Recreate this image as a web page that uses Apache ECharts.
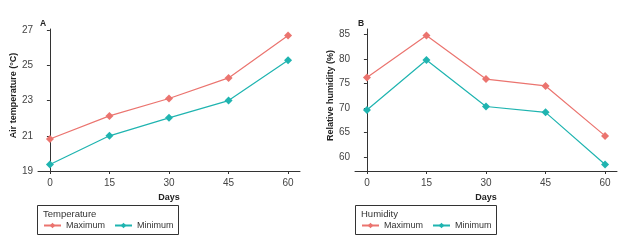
<!DOCTYPE html>
<html>
<head>
<meta charset="utf-8">
<script src="https://cdn.jsdelivr.net/npm/echarts@6/dist/echarts.min.js"></script>
<style>
  html, body { margin: 0; padding: 0; background: #fff; }
  #chart { width: 624px; height: 243px; }
</style>
</head>
<body>
<div id="chart"></div>
<script>
const days = [0, 15, 30, 45, 60];
const tempMax = [20.82, 22.13, 23.12, 24.29, 26.7];
const tempMin = [19.37, 21.0, 22.02, 23.0, 25.3];
const humMax = [76.2, 84.8, 75.9, 74.5, 64.3];
const humMin = [69.6, 79.8, 70.3, 69.1, 58.45];
const tempTicks = [19, 21, 23, 25, 27];
const humTicks = [60, 65, 70, 75, 80, 85];

const RED = '#EB746F';
const TEAL = '#1FB4B0';
const FONT = "'Liberation Sans Narrow', 'Liberation Sans', sans-serif";

const chart = echarts.init(document.getElementById('chart'));

function pairs(ys) {
  return days.map((d, i) => [d, ys[i]]);
}

function xAxisFor(gridIndex) {
  return {
    type: 'value',
    gridIndex: gridIndex,
    min: -3,
    max: 63,
    name: 'Days',
    nameLocation: 'middle',
    nameGap: 20,
    nameTextStyle: { fontFamily: FONT, fontWeight: 'bold', fontSize: 9, color: '#222' },
    axisLine: { show: true, lineStyle: { color: '#333', width: 1 } },
    axisTick: { show: true, length: 3, customValues: days, lineStyle: { color: '#333' } },
    axisLabel: { customValues: days, fontFamily: FONT, fontSize: 10, color: '#444', margin: 7 },
    splitLine: { show: false }
  };
}

function yAxisFor(gridIndex, name, min, max, ticks) {
  return {
    type: 'value',
    gridIndex: gridIndex,
    min: min,
    max: max,
    name: name,
    nameLocation: 'middle',
    nameGap: 20,
    // left padding nudges the rotated title a little upwards, as in the source
    nameTextStyle: { fontFamily: FONT, fontWeight: 'bold', fontSize: 9, color: '#222', padding: [0, 0, 0, 9] },
    axisLine: { show: true, lineStyle: { color: '#333', width: 1 } },
    axisTick: { show: true, length: 3, customValues: ticks, lineStyle: { color: '#333' } },
    axisLabel: { customValues: ticks, fontFamily: FONT, fontSize: 10, color: '#444', margin: 5 },
    splitLine: { show: false }
  };
}

function lineSeries(name, color, xi, data) {
  return {
    name: name,
    type: 'line',
    xAxisIndex: xi,
    yAxisIndex: xi,
    data: pairs(data),
    symbol: 'diamond',
    symbolSize: 8,
    showSymbol: true,
    lineStyle: { color: color, width: 1.2 },
    itemStyle: { color: color },
    animation: false
  };
}

function legendFor(left) {
  return {
    left: left,
    top: 221,
    padding: 0,
    orient: 'horizontal',
    itemWidth: 17,
    itemHeight: 7,
    itemGap: 9,
    data: ['Maximum', 'Minimum'],
    textStyle: { fontFamily: FONT, fontSize: 9, color: '#333' }
  };
}

const option = {
  backgroundColor: '#fff',
  grid: [
    { left: 38, top: 29, width: 262, height: 142 },
    { left: 355, top: 29, width: 262, height: 142 }
  ],
  xAxis: [xAxisFor(0), xAxisFor(1)],
  yAxis: [
    yAxisFor(0, 'Air temperature (°C)', 19.0, 27.07, tempTicks),
    yAxisFor(1, 'Relative humidity (%)', 57.13, 86.12, humTicks)
  ],
  legend: [legendFor(43), legendFor(361)],
  series: [
    lineSeries('Maximum', RED, 0, tempMax),
    lineSeries('Minimum', TEAL, 0, tempMin),
    lineSeries('Maximum', RED, 1, humMax),
    lineSeries('Minimum', TEAL, 1, humMin)
  ],
  graphic: [
    { type: 'text', style: { x: 40, y: 19, text: 'A', verticalAlign: 'top', fontFamily: FONT, fontWeight: 'bold', fontSize: 8.5, fill: '#222' } },
    { type: 'text', style: { x: 358, y: 19, text: 'B', verticalAlign: 'top', fontFamily: FONT, fontWeight: 'bold', fontSize: 8.5, fill: '#222' } },
    { type: 'rect', shape: { x: 37.5, y: 205.5, width: 141, height: 29 }, style: { fill: 'none', stroke: '#333', lineWidth: 1 } },
    { type: 'rect', shape: { x: 355.5, y: 205.5, width: 141, height: 29 }, style: { fill: 'none', stroke: '#333', lineWidth: 1 } },
    { type: 'text', style: { x: 43, y: 209, text: 'Temperature', verticalAlign: 'top', fontFamily: FONT, fontSize: 9.5, fill: '#333' } },
    { type: 'text', style: { x: 361, y: 209, text: 'Humidity', verticalAlign: 'top', fontFamily: FONT, fontSize: 9.5, fill: '#333' } }
  ]
};

chart.setOption(option);
</script>
</body>
</html>
